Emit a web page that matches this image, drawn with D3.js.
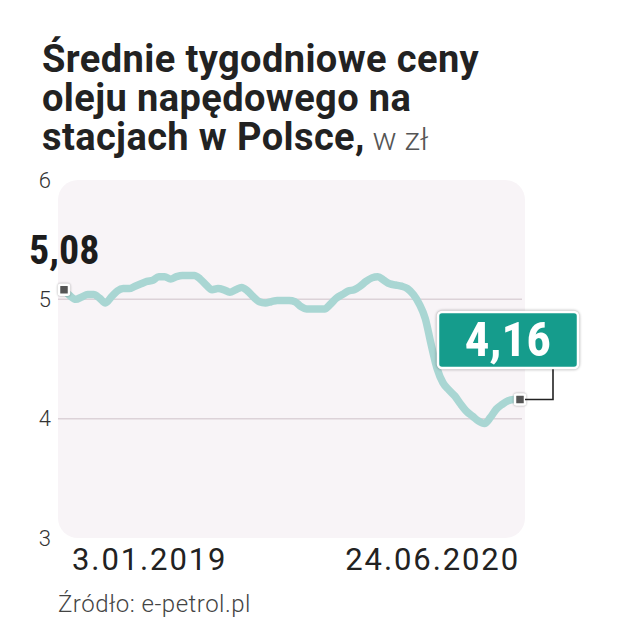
<!DOCTYPE html>
<html>
<head>
<meta charset="utf-8">
<script src="https://cdn.jsdelivr.net/npm/d3@7"></script>
<style>
  body { margin: 0; background: #fff; }
  .cond { font-family: "Roboto Condensed", "Liberation Sans Narrow", "DejaVu Sans Condensed", "Roboto", sans-serif; font-stretch: condensed; }
</style>
</head>
<body>
<svg id="chart" width="617" height="640"></svg>
<script>
// weekly average diesel price, PLN (3.01.2019 - 24.06.2020)
var prices = [5.08, 5.03, 5.00, 5.02, 5.04, 5.04, 5.01, 4.97, 5.02, 5.07,
    5.09, 5.09, 5.11, 5.13, 5.15, 5.16, 5.19, 5.19, 5.17, 5.19,
    5.20, 5.20, 5.20, 5.17, 5.12, 5.08, 5.09, 5.08, 5.06, 5.08,
    5.10, 5.07, 5.02, 4.98, 4.97, 4.98, 4.99, 4.99, 4.99, 4.98,
    4.94, 4.92, 4.92, 4.92, 4.92, 4.96, 5.01, 5.04, 5.07, 5.08,
    5.11, 5.15, 5.18, 5.19, 5.16, 5.13, 5.12, 5.11, 5.09, 5.04,
    4.96, 4.84, 4.62, 4.42, 4.30, 4.24, 4.19, 4.12, 4.06, 4.02,
    3.98, 3.96, 4.01, 4.08, 4.12, 4.15, 4.16, 4.16];
var xLabels = ['3.01.2019', '24.06.2020'];
var yTicks = [3, 4, 5, 6];
var gridTicks = [4, 5];
var firstLabel = '5,08';
var lastLabel = '4,16';
var titleLines = ['Średnie tygodniowe ceny', 'oleju napędowego na', 'stacjach w Polsce,'];
var unitText = ' w zł';
var sourceText = 'Źródło: e-petrol.pl';

var svg = d3.select('#chart');

var xScale = d3.scaleLinear().domain([0, prices.length - 1]).range([64, 520]);
var yScale = d3.scaleLinear().domain([3, 6]).range([538, 180]);

// title
var title = svg.append('text')
    .attr('x', 42)
    .attr('y', 72)
    .attr('font-family', 'Roboto, sans-serif')
    .attr('font-size', 38)
    .attr('letter-spacing', 0.4)
    .attr('font-weight', 'bold')
    .attr('fill', '#222');
titleLines.forEach(function (t, i) {
    title.append('tspan').attr('x', 42).attr('dy', i === 0 ? 0 : 39).text(t);
    if (i === titleLines.length - 1) {
        title.append('tspan').attr('font-weight', 300).attr('fill', '#555').attr('font-size', 32).attr('letter-spacing', 0).text(unitText);
    }
});

// plot background
svg.append('rect')
    .attr('x', 58).attr('y', yScale(6))
    .attr('width', 525 - 58).attr('height', yScale(3) - yScale(6))
    .attr('rx', 20)
    .attr('fill', '#f8f4f7');

// gridlines
svg.selectAll('.grid')
    .data(gridTicks)
    .enter()
    .append('line')
    .attr('x1', 58).attr('x2', 522)
    .attr('y1', function (d) { return yScale(d); })
    .attr('y2', function (d) { return yScale(d); })
    .attr('stroke', '#dcd2d8')
    .attr('stroke-width', 1.5);

// y axis labels
var yAxis = d3.axisLeft(yScale).tickValues(yTicks).tickSize(0).tickPadding(0).tickFormat(d3.format('d'));
var yAxisGroup = svg.append('g')
    .attr('transform', 'translate(51,0)')
    .call(yAxis);
yAxisGroup.select('.domain').remove();
yAxisGroup.selectAll('text')
    .attr('font-family', 'Roboto, sans-serif')
    .attr('font-weight', 300)
    .attr('font-size', 22)
    .attr('fill', '#333');

// price line
var line = d3.line()
    .x(function (d, i) { return xScale(i); })
    .y(function (d) { return yScale(d); })
    .curve(d3.curveMonotoneX);

svg.append('path')
    .datum(prices)
    .attr('d', line)
    .attr('fill', 'none')
    .attr('stroke', '#a9d6d3')
    .attr('stroke-width', 7.5)
    .attr('stroke-linejoin', 'round')
    .attr('stroke-linecap', 'round');

// end point markers
var ends = [0, prices.length - 1];
svg.selectAll('.marker')
    .data(ends)
    .enter()
    .append('rect')
    .attr('x', function (d) { return xScale(d) - 5; })
    .attr('y', function (d) { return yScale(prices[d]) - 5; })
    .attr('width', 10).attr('height', 10)
    .attr('rx', 1.5)
    .attr('fill', '#555')
    .attr('stroke', '#fff')
    .attr('stroke-width', 2.5)
    .style('filter', 'drop-shadow(0 0 1px rgba(0,0,0,0.35))');

// first value label
svg.append('text')
    .attr('class', 'cond')
    .attr('x', 29)
    .attr('y', yScale(prices[0]) - 26)
    .attr('font-size', 40)
    .attr('font-weight', 'bold')
    .attr('fill', '#1c1c1c')
    .text(firstLabel);

// last value callout
var lx = xScale(prices.length - 1), ly = yScale(prices[prices.length - 1]);
var boxX = 438, boxY = 312, boxW = 140, boxH = 56;
svg.append('path')
    .attr('d', 'M' + (lx + 5) + ',' + ly + 'H' + (boxX + 115) + 'V' + (boxY + boxH))
    .attr('fill', 'none')
    .attr('stroke', '#222')
    .attr('stroke-width', 1.6);
svg.append('rect')
    .attr('x', boxX).attr('y', boxY)
    .attr('width', boxW).attr('height', boxH)
    .attr('rx', 4)
    .attr('fill', '#159c8c')
    .attr('stroke', '#fff')
    .attr('stroke-width', 2.5)
    .style('filter', 'drop-shadow(0 0 1.5px rgba(0,0,0,0.4))');
svg.append('text')
    .attr('class', 'cond')
    .attr('x', boxX + boxW / 2)
    .attr('y', boxY + 44)
    .attr('text-anchor', 'middle')
    .attr('font-size', 49)
    .attr('font-weight', 'bold')
    .attr('fill', '#fff')
    .text(lastLabel);

// x labels
svg.selectAll('.xlab')
    .data(xLabels)
    .enter()
    .append('text')
    .attr('x', function (d, i) { return i === 0 ? xScale(0) + 8 : xScale(prices.length - 1); })
    .attr('y', 570)
    .attr('text-anchor', function (d, i) { return i === 0 ? 'start' : 'end'; })
    .attr('font-family', 'Roboto, sans-serif')
    .attr('font-size', 31)
    .attr('letter-spacing', 1.9)
    .attr('fill', '#222')
    .text(function (d) { return d; });

// source
svg.append('text')
    .attr('x', 58)
    .attr('y', 612)
    .attr('font-family', 'Roboto, sans-serif')
    .attr('font-size', 24)
    .attr('letter-spacing', 0.5)
    .attr('font-weight', 300)
    .attr('fill', '#444')
    .text(sourceText);
</script>
</body>
</html>
